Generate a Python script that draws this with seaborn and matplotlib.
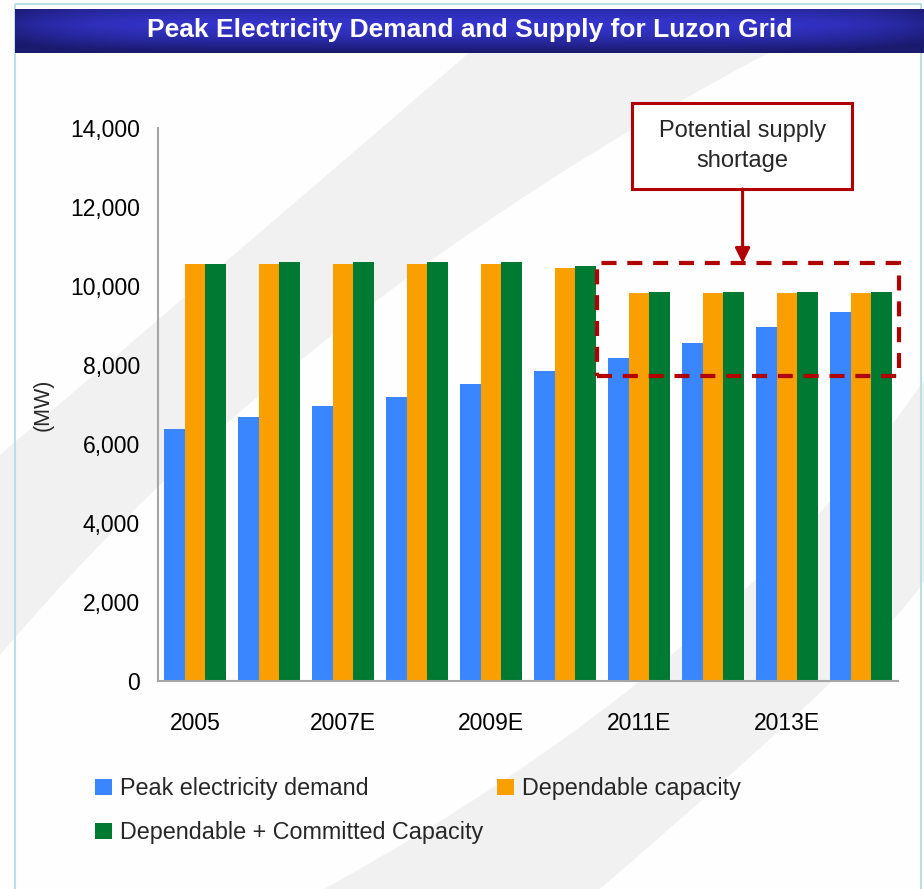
import numpy as np
import pandas as pd
import matplotlib.pyplot as plt
import seaborn as sns
from matplotlib.patches import Rectangle, PathPatch
from matplotlib.path import Path
from matplotlib.colors import LinearSegmentedColormap
from matplotlib.ticker import StrMethodFormatter

# data (MW)
years = ['2005', '2006', '2007E', '2008E', '2009E', '2010E', '2011E', '2012E', '2013E', '2014E']
peak_demand = [6380, 6680, 6960, 7190, 7520, 7850, 8180, 8560, 8960, 9340]
dependable = [10560, 10560, 10560, 10560, 10560, 10460, 9820, 9820, 9820, 9820]
dep_committed = [10560, 10610, 10610, 10610, 10610, 10510, 9850, 9850, 9850, 9850]
series = ['Peak electricity demand', 'Dependable capacity', 'Dependable + Committed Capacity']
colors = ['#3A86FF', '#F9A000', '#007A33']
shown_years = ['2005', '2007E', '2009E', '2011E', '2013E']

df = pd.DataFrame({
    'year': years * 3,
    'MW': peak_demand + dependable + dep_committed,
    'series': np.repeat(series, len(years)),
})

sns.set_theme(style='white')
plt.rcParams['font.family'] = ['Liberation Sans', 'DejaVu Sans']

W, H = 924, 889
fig = plt.figure(figsize=(W / 100, H / 100), dpi=100)

# background: white page, grey swooshes, banner, border (pixel coords)
bg = fig.add_axes([0, 0, 1, 1], zorder=0)
bg.add_patch(Rectangle((0, 0), W, H, fc='#FEFEFE', ec='none', zorder=0))
C3, L = Path.CURVE3, Path.LINETO
swoosh1 = Path([(0, 455), (240, 250), (470, 52), (770, 52), (300, 300), (0, 655), (0, 455)],
               [Path.MOVETO, C3, C3, L, C3, C3, Path.CLOSEPOLY])
swoosh2 = Path([(324, 889), (732, 665), (924, 380), (924, 580), (898, 632), (600, 889), (324, 889)],
               [Path.MOVETO, C3, C3, L, C3, C3, Path.CLOSEPOLY])
for p in (swoosh1, swoosh2):
    bg.add_patch(PathPatch(p, fc='#F1F1F1', ec='none', zorder=1))
bg.add_patch(Rectangle((15, 4), 906, 900, fill=False, ec='#B9E1E5', lw=1.5, zorder=2))

gx = np.linspace(-1, 1, 300)
gy = np.linspace(0, 1, 60)
vert = 1 - 0.55 * np.abs(gy - 0.35) ** 1.5 * 2
horiz = 1 - 0.35 * np.abs(gx) ** 6
grad = np.outer(vert, horiz)
cmap = LinearSegmentedColormap.from_list('banner', ['#1A1A6E', '#3434CC'])
bg.imshow(grad, extent=(15, W, 53, 9), cmap=cmap, vmin=0.45, vmax=1, aspect='auto', zorder=3)
bg.text(470, 30, 'Peak Electricity Demand and Supply for Luzon Grid', color='white',
        fontsize=19, fontweight='bold', ha='center', va='center', zorder=4)
bg.set_xlim(0, W)
bg.set_ylim(H, 0)
bg.axis('off')

# main chart
ax = fig.add_axes([158 / W, 1 - 681 / H, (898 - 158) / W, (681 - 128) / H], zorder=1)
ax.set_facecolor('none')
sns.barplot(data=df, x='year', y='MW', hue='series', hue_order=series, palette=colors,
            width=0.85, gap=0, saturation=1, linewidth=0, ax=ax)
handles, labels = ax.get_legend_handles_labels()
ax.get_legend().remove()

ax.set_xlim(-0.5, 9.5)
ax.set_ylim(0, 14000)
ax.set_yticks(range(0, 14001, 2000))
ax.yaxis.set_major_formatter(StrMethodFormatter('{x:,.0f}'))
ax.set_xticks(range(len(years)))
ax.set_xticklabels([y if y in shown_years else '' for y in years])
ax.tick_params(length=0, labelsize=16.5, colors='black')
ax.tick_params(axis='x', pad=22)
ax.tick_params(axis='y', pad=13)
ax.set_xlabel('')
ax.set_ylabel('(MW)', fontsize=15.5, labelpad=12)
sns.despine(ax=ax)
for s in ('left', 'bottom'):
    ax.spines[s].set_color('#A6A6A6')
    ax.spines[s].set_linewidth(1.5)

# shortage callout
red = '#B00000'
ax.add_patch(Rectangle((5.43, 7720), 4.08, 2860, fill=False, ec=red, lw=3,
                       ls=(0, (3.6, 2.6)), clip_on=False, zorder=5))
ax.add_patch(Rectangle((5.91, 12456), 2.975, 2177, fc='white', ec=red, lw=2.2,
                       clip_on=False, zorder=5))
ax.text(7.4, 13544, 'Potential supply\nshortage', ha='center', va='center',
        fontsize=17, linespacing=1.45, zorder=6)
ax.annotate('', xy=(7.4, 10580), xytext=(7.4, 12456), annotation_clip=False,
            arrowprops=dict(arrowstyle='-|>', color=red, lw=2.2, mutation_scale=22,
                            shrinkA=0, shrinkB=0), zorder=6)

order = [0, 2, 1]
fig.legend([handles[i] for i in order], [labels[i] for i in order], ncol=2,
           loc='upper left', bbox_to_anchor=(95 / W, 1 - 777 / H), frameon=False,
           fontsize=16.8, handlelength=0.72, handleheight=0.72, handletextpad=0.34,
           columnspacing=0.6, borderpad=0, borderaxespad=0, labelspacing=0.9)

fig.savefig('out.png', dpi=100)
